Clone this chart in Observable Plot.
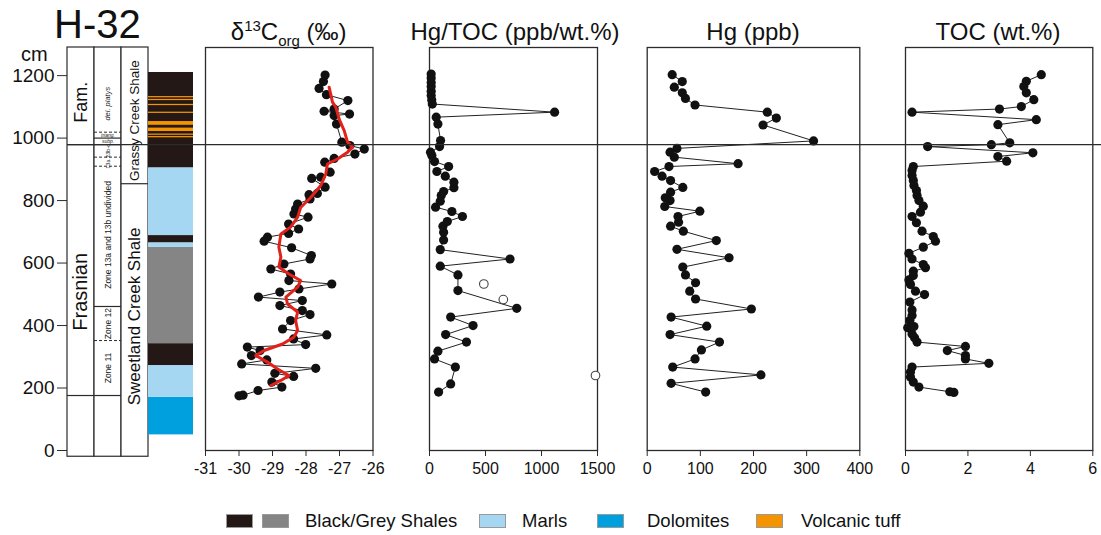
<!DOCTYPE html>
<html><head><meta charset="utf-8">
<script src="https://cdn.jsdelivr.net/npm/d3@7"></script>
<script src="https://cdn.jsdelivr.net/npm/@observablehq/plot@0.6"></script>
<style>
body{margin:0;background:#fff;font-family:"Liberation Sans",Arial,sans-serif;}
#fig{position:relative;width:1101px;height:535px;overflow:hidden;background:#fff}
#fig svg{position:absolute;left:0;top:0;pointer-events:none}
.t{position:absolute;white-space:nowrap;color:#111;font-family:"Liberation Sans",Arial,sans-serif}
.ttl{width:300px;text-align:center;font-size:24px;line-height:24px;top:20px}
.sw{position:absolute;width:27px;height:14px;top:514px;box-sizing:border-box;border:1px solid #9a9a9a}
.lg{position:absolute;top:512px;font-size:18.5px;line-height:18px;color:#111}
sup,sub{font-size:15px;line-height:0}
</style></head><body><div id="fig"></div>
<script>
// ---------- data ----------
const c13Depth = [175,177,192,203,219,237,247,263,277,290,304,320,331,339,357,370,389,416,435,448,464,480,491,507,517,533,544,565,581,597,613,624,649,670,683,695,709,725,747,757,773,789,805,819,823,843,871,875,891,923,935,949,965,976,987,1045,1072,1077,1086,1093,1120,1139,1159,1181,1202];
const c13Value = [-30.00,-29.88,-29.43,-28.72,-29.02,-28.37,-28.93,-27.71,-29.92,-29.17,-29.63,-29.37,-29.75,-28.01,-28.37,-27.38,-28.70,-28.46,-27.88,-28.11,-28.78,-28.11,-29.42,-28.78,-28.21,-27.23,-28.51,-28.46,-29.05,-28.66,-27.88,-27.84,-28.43,-29.25,-29.15,-28.52,-28.22,-28.52,-27.94,-28.36,-28.31,-28.25,-27.88,-27.91,-27.66,-27.43,-27.83,-27.56,-27.28,-27.44,-27.16,-26.54,-26.26,-26.69,-26.93,-27.09,-27.16,-26.70,-27.46,-27.16,-26.75,-27.39,-27.61,-27.48,-27.43];
const c13SmoothDepth = [208,224,240,261,283,304,320,341,363,384,416,443,469,491,523,544,565,587,619,651,693,715,747,778,810,848,885,917,933,955,971,987,1024,1061,1099,1115,1163];
const c13SmoothValue = [-29.05,-28.75,-28.51,-28.85,-29.15,-29.50,-29.25,-28.70,-28.36,-28.25,-28.31,-28.25,-28.55,-28.60,-28.25,-28.16,-28.51,-28.81,-28.75,-28.81,-28.75,-28.46,-28.25,-28.16,-27.86,-27.56,-27.41,-27.36,-27.06,-26.76,-26.61,-26.76,-26.86,-27.01,-27.11,-27.21,-27.31];

const hgTocDepth = [187,213,267,293,318,347,371,400,427,455,512,562,590,613,643,674,699,718,733,749,765,779,798,816,829,841,859,878,893,909,925,944,955,973,992,1045,1067,1083,1109,1122,1136,1150,1165,1178,1192,1205];
const hgTocValue = [81,189,231,45,75,330,144,389,189,779,254,254,96,719,96,126,126,120,159,294,200,54,96,105,126,218,218,141,66,171,45,21,9,90,99,75,60,1117,25,20,15,15,15,15,15,15];
const hgTocOutDepth = [240,483,533];
const hgTocOutValue = [1482,659,485];

const hgDepth = [187,215,242,267,293,322,347,371,398,427,453,485,510,537,562,587,617,644,672,702,718,731,749,766,781,800,809,827,842,864,878,893,909,918,939,955,967,991,1042,1064,1083,1106,1127,1145,1163,1181,1203];
const hgValue = [110,45,214,48,90,102,136,43,112,45,196,91,80,91,72,67,154,56,130,68,44,59,58,99,33,43,34,44,67,44,28,14,41,171,51,43,56,313,218,243,226,90,72,66,51,66,47];

const tocDepth = [186,188,203,219,235,251,267,279,293,304,320,333,347,361,373,393,397,416,432,450,475,499,510,531,546,560,574,585,595,613,631,651,670,685,702,729,749,763,782,800,816,832,848,864,880,896,909,926,941,953,973,979,985,1043,1059,1083,1093,1101,1123,1145,1165,1182,1203];
const tocValue = [1.55,1.42,0.43,0.25,0.16,0.16,0.21,2.67,1.92,1.92,1.34,1.92,0.37,0.29,0.21,0.07,0.27,0.14,0.21,0.21,0.14,0.61,0.32,0.16,0.11,0.25,0.25,0.64,0.57,0.21,0.11,0.57,0.96,0.89,0.53,0.35,0.21,0.48,0.57,0.43,0.37,0.35,0.27,0.25,0.21,0.21,0.25,3.24,2.96,4.08,0.71,2.75,3.34,2.96,4.19,0.21,3.01,3.71,4.11,3.87,3.79,3.87,4.35];

// lithology
const lithBase = [50,170,272,342,650,665,688,905];
const lithTop  = [170,272,342,650,665,688,905,1210];
const lithType = ["Dolomites","Marls","Black shale","Grey shale","Marls","Black shale","Marls","Black shale"];
const tuffBase = [1001,1009,1021,1041,1079,1104,1120,1129];
const tuffTop  = [1005,1013,1032,1053,1083,1108,1124,1133];
const lithColors = {"Black shale":"#231815","Grey shale":"#858585","Marls":"#a6d7f2","Dolomites":"#00a0df","Volcanic tuff":"#f39400"};

// stratigraphy
const stageNames = ["", "Frasnian", "Fam."];
const stageBase = [-20, 176, 979];
const stageTop = [176, 979, 1290];
const stageLabelDepth = [null, 508, 1115];
const zoneBoundSolid = [176, 461, 979, 1000];
const zoneBoundDashed = [352, 910, 939, 1019];
const zoneLabels = ["Zone 11", "Zone 12", "Zone 13a and 13b undivided"];
const zoneLabelDepth = [264, 406, 690];
const zoneSmallLabels = ["13a ?", "13b-c", "subp.", "triang.", "del. platys"];
const zoneSmallDepth = [924, 959, 989, 1010, 1110];
const formationNames = ["Sweetland Creek Shale", "Grassy Creek Shale"];
const formationBase = [-20, 854];
const formationTop = [854, 1290];
const formationLabelDepth = [429, 1056];
const eventDepth = 979;

const depthTicks = [0,200,400,600,800,1000,1200];
const c13Ticks = [-31,-30,-29,-28,-27,-26];
const hgTocTicks = [0,500,1000,1500];
const hgTicks = [0,100,200,300,400];
const tocTicks = [0,2,4,6];

// ---------- layout ----------
const W = 1101, H = 535, MT = 47, MB = 85;
const yDomain = [0, 1290];
const FONT = '"Liberation Sans", Arial, sans-serif';
const ink = "#2b2b2b";
const fig = document.getElementById("fig");
const zip = (a, b) => a.map((d, i) => ({depth: d, value: b[i]}));

function base(left, right, x, marks) {
  return Plot.plot({
    width: W, height: H, marginTop: MT, marginBottom: MB,
    marginLeft: left, marginRight: W - right,
    x, y: {domain: yDomain, axis: null},
    color: {type: "identity"},
    style: {background: "transparent", fontFamily: FONT, fontSize: "16px", color: "#111", overflow: "visible"},
    marks
  });
}

// stratigraphic columns
const stageData = stageNames.map((n, i) => ({col: "stage", b: stageBase[i], t: stageTop[i], label: n, ld: stageLabelDepth[i]}));
const fmData = formationNames.map((n, i) => ({col: "fm", b: formationBase[i], t: formationTop[i], label: n, ld: formationLabelDepth[i]}));
const strat = base(67, 148, {type: "band", domain: ["stage", "zone", "fm"], padding: 0, axis: null}, [
  Plot.barY(["stage", "zone", "fm"], {x: d => d, y1: -20, y2: 1290, fill: "white", stroke: ink, strokeWidth: 1.2}),
  Plot.tickY([176, 979], {x: () => "stage", y: d => d, stroke: ink, strokeWidth: 1.2}),
  Plot.tickY(zoneBoundSolid, {x: () => "zone", y: d => d, stroke: ink, strokeWidth: 1.2}),
  Plot.tickY(zoneBoundDashed, {x: () => "zone", y: d => d, stroke: ink, strokeWidth: 1, strokeDasharray: "3,2"}),
  Plot.tickY([854], {x: () => "fm", y: d => d, stroke: ink, strokeWidth: 1.2}),
  Plot.text([stageData[1]], {x: "col", y: "ld", text: "label", rotate: -90, fontSize: 20, fill: "#111"}),
  Plot.text([stageData[2]], {x: "col", y: "ld", text: "label", rotate: -90, fontSize: 18, fill: "#111"}),
  Plot.text(zoneLabels.map((l, i) => ({l, d: zoneLabelDepth[i]})), {x: () => "zone", y: "d", text: "l", rotate: -90, fontSize: 8.5, fill: "#222"}),
  Plot.text(zoneSmallLabels.slice(0, 2).map((l, i) => ({l, d: zoneSmallDepth[i]})), {x: () => "zone", y: "d", text: "l", rotate: -90, fontSize: 5.5, fill: "#222"}),
  Plot.text(zoneSmallLabels.slice(2, 4).map((l, i) => ({l, d: zoneSmallDepth[i + 2]})), {x: () => "zone", y: "d", text: "l", fontSize: 5, fontStyle: "italic", fill: "#222"}),
  Plot.text(zoneSmallLabels.slice(4).map((l, i) => ({l, d: zoneSmallDepth[i + 4]})), {x: () => "zone", y: "d", text: "l", rotate: -90, fontSize: 7.5, fontStyle: "italic", fill: "#222"}),
  Plot.text([fmData[0]], {x: "col", y: "ld", text: "label", rotate: -90, fontSize: 17, fill: "#111"}),
  Plot.text([fmData[1]], {x: "col", y: "ld", text: "label", rotate: -90, fontSize: 13.5, fill: "#111"}),
  Plot.axisY({ticks: depthTicks, tickSize: 10, tickPadding: 3, fontSize: 19, label: null, anchor: "left", stroke: ink, tickFormat: d => String(d)})
]);
fig.appendChild(strat);

// lithology column
const lithData = lithType.map((t, i) => ({b: lithBase[i], t: lithTop[i], c: lithColors[t]}));
const tuffData = tuffBase.map((b, i) => ({b, t: tuffTop[i], c: lithColors["Volcanic tuff"]}));
const lith = base(148, 193, {type: "band", domain: ["lith"], padding: 0, axis: null}, [
  Plot.barY(lithData, {x: () => "lith", y1: "b", y2: "t", fill: "c"}),
  Plot.barY(tuffData, {x: () => "lith", y1: "b", y2: "t", fill: "c"})
]);
fig.appendChild(lith);

function dataPanel(left, right, domain, ticks, pts, extra) {
  return base(left, right, {domain, axis: null}, [
    Plot.frame({stroke: ink, strokeWidth: 1.3}),
    Plot.line(pts, {x: "value", y: "depth", stroke: "#222", strokeWidth: 1}),
    Plot.dot(pts, {x: "value", y: "depth", r: 4.6, fill: "#111", stroke: "none"}),
    ...extra,
    Plot.axisX({ticks, tickSize: 6, tickPadding: 6, fontSize: 16, label: null, anchor: "bottom", stroke: ink, tickFormat: d => String(d)})
  ]);
}

fig.appendChild(dataPanel(205, 372.5, [-31, -26], c13Ticks, zip(c13Depth, c13Value), [
  Plot.line(zip(c13SmoothDepth, c13SmoothValue), {x: "value", y: "depth", stroke: "#e1221b", strokeWidth: 3})
]));
fig.appendChild(dataPanel(429, 597, [0, 1500], hgTocTicks, zip(hgTocDepth, hgTocValue), [
  Plot.dot(zip(hgTocOutDepth, hgTocOutValue), {x: "value", y: "depth", r: 4.3, fill: "white", stroke: "#444", strokeWidth: 1.1})
]));
fig.appendChild(dataPanel(646.7, 859.3, [0, 400], hgTicks, zip(hgDepth, hgValue), []));
fig.appendChild(dataPanel(905, 1092.3, [0, 6], tocTicks, zip(tocDepth, tocValue), []));

// event line across the figure
fig.appendChild(base(67, W, {domain: [0, 1], axis: null}, [
  Plot.ruleY([eventDepth], {stroke: ink, strokeWidth: 1.1})
]));

// ---------- HTML texts ----------
function addText(html, cls, style) {
  const d = document.createElement("div");
  d.className = "t " + cls;
  d.innerHTML = html;
  Object.assign(d.style, style);
  fig.appendChild(d);
}
addText("H-32", "", {left: "54px", top: "4px", fontSize: "40px", lineHeight: "40px"});
addText("cm", "", {left: "21px", top: "44px", fontSize: "20px", lineHeight: "20px"});
addText("δ<sup>13</sup>C<sub>org</sub> (‰)", "ttl", {left: (288.7 - 150) + "px"});
addText("Hg/TOC (ppb/wt.%)", "ttl", {left: (515 - 150) + "px"});
addText("Hg (ppb)", "ttl", {left: (753 - 150) + "px"});
addText("TOC (wt.%)", "ttl", {left: (998 - 150) + "px"});

// legend
const legendItems = [
  {sw: [["Black shale", 226], ["Grey shale", 262]], label: "Black/Grey Shales", x: 305},
  {sw: [["Marls", 479]], label: "Marls", x: 522},
  {sw: [["Dolomites", 597]], label: "Dolomites", x: 647},
  {sw: [["Volcanic tuff", 756]], label: "Volcanic tuff", x: 801}
];
for (const it of legendItems) {
  for (const [k, x] of it.sw) {
    const s = document.createElement("div");
    s.className = "sw";
    s.style.left = x + "px";
    s.style.background = lithColors[k];
    fig.appendChild(s);
  }
  const l = document.createElement("div");
  l.className = "lg";
  l.style.left = it.x + "px";
  l.textContent = it.label;
  fig.appendChild(l);
}
</script></body></html>
